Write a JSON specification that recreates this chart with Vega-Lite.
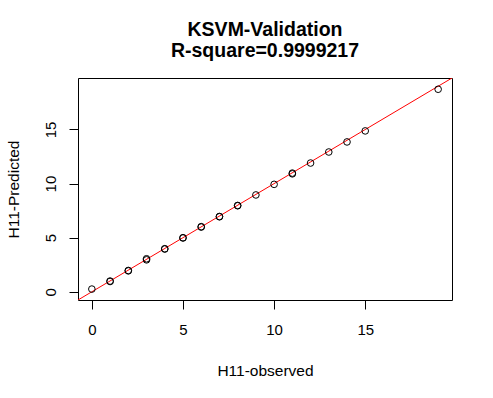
{
  "$schema": "https://vega.github.io/schema/vega-lite/v6.json",
  "width": 374,
  "height": 222,
  "autosize": "none",
  "padding": {"left": 78, "top": 78, "right": 41, "bottom": 98},
  "background": "white",
  "config": {
    "font": "Liberation Sans",
    "view": {"stroke": "black", "strokeWidth": 1},
    "axis": {"grid": false, "domain": false, "tickColor": "black", "tickSize": 9, "tickWidth": 1,
             "labelColor": "black", "labelFontSize": 15, "titleFontSize": 15.5, "titleFontWeight": "normal", "titleColor": "black",
             "labelFont": "Liberation Sans", "titleFont": "Liberation Sans"}
  },
  "title": {
    "text": ["KSVM-Validation", "R-square=0.9999217"],
    "fontSize": 19.5, "fontWeight": "bold", "font": "Liberation Sans", "color": "black",
    "anchor": "middle", "lineHeight": 21, "offset": 17
  },
  "datasets": {
    "pts": [
      {"obs": 0, "pred": 0.25},
      {"obs": 1, "pred": 0.95}, {"obs": 1, "pred": 0.99},
      {"obs": 2, "pred": 1.93}, {"obs": 2, "pred": 1.97},
      {"obs": 3, "pred": 2.95}, {"obs": 3, "pred": 3.05},
      {"obs": 4, "pred": 3.95}, {"obs": 4, "pred": 3.98},
      {"obs": 5, "pred": 4.97}, {"obs": 5, "pred": 5.0},
      {"obs": 6, "pred": 5.98}, {"obs": 6, "pred": 6.02},
      {"obs": 7, "pred": 6.93}, {"obs": 7, "pred": 6.96},
      {"obs": 8, "pred": 7.95}, {"obs": 8, "pred": 7.98},
      {"obs": 9, "pred": 8.95},
      {"obs": 10, "pred": 9.93},
      {"obs": 11, "pred": 10.9}, {"obs": 11, "pred": 10.97},
      {"obs": 12, "pred": 11.9},
      {"obs": 13, "pred": 12.92},
      {"obs": 14, "pred": 13.85},
      {"obs": 15, "pred": 14.87},
      {"obs": 19, "pred": 18.72}
    ],
    "abline": [
      {"obs": -5, "pred": -5},
      {"obs": 25, "pred": 25}
    ]
  },
  "layer": [
    {
      "data": {"name": "abline"},
      "mark": {"type": "line", "color": "red", "strokeWidth": 1, "clip": true},
      "encoding": {
        "x": {"field": "obs", "type": "quantitative"},
        "y": {"field": "pred", "type": "quantitative"}
      }
    },
    {
      "data": {"name": "pts"},
      "mark": {"type": "point", "shape": "circle", "filled": false, "color": "black", "strokeWidth": 1, "size": 44, "opacity": 1, "clip": true},
      "encoding": {
        "x": {"field": "obs", "type": "quantitative",
              "scale": {"domain": [-0.76, 19.76], "nice": false, "zero": false},
              "axis": {"values": [0, 5, 10, 15], "title": "H11-observed", "labelBaseline": "top", "labelPadding": 13,
                       "titleBaseline": "alphabetic", "titleY": 75, "titleX": 187, "titleAnchor": null}},
        "y": {"field": "pred", "type": "quantitative",
              "scale": {"domain": [-0.76, 19.76], "nice": false, "zero": false},
              "axis": {"values": [0, 5, 10, 15], "title": "H11-Predicted", "labelAngle": -90, "labelAlign": "center",
                       "labelBaseline": "alphabetic", "labelPadding": 14,
                       "titleAngle": -90, "titleBaseline": "alphabetic", "titleAlign": "center", "titleX": -60, "titleY": 111}}
      }
    }
  ]
}
